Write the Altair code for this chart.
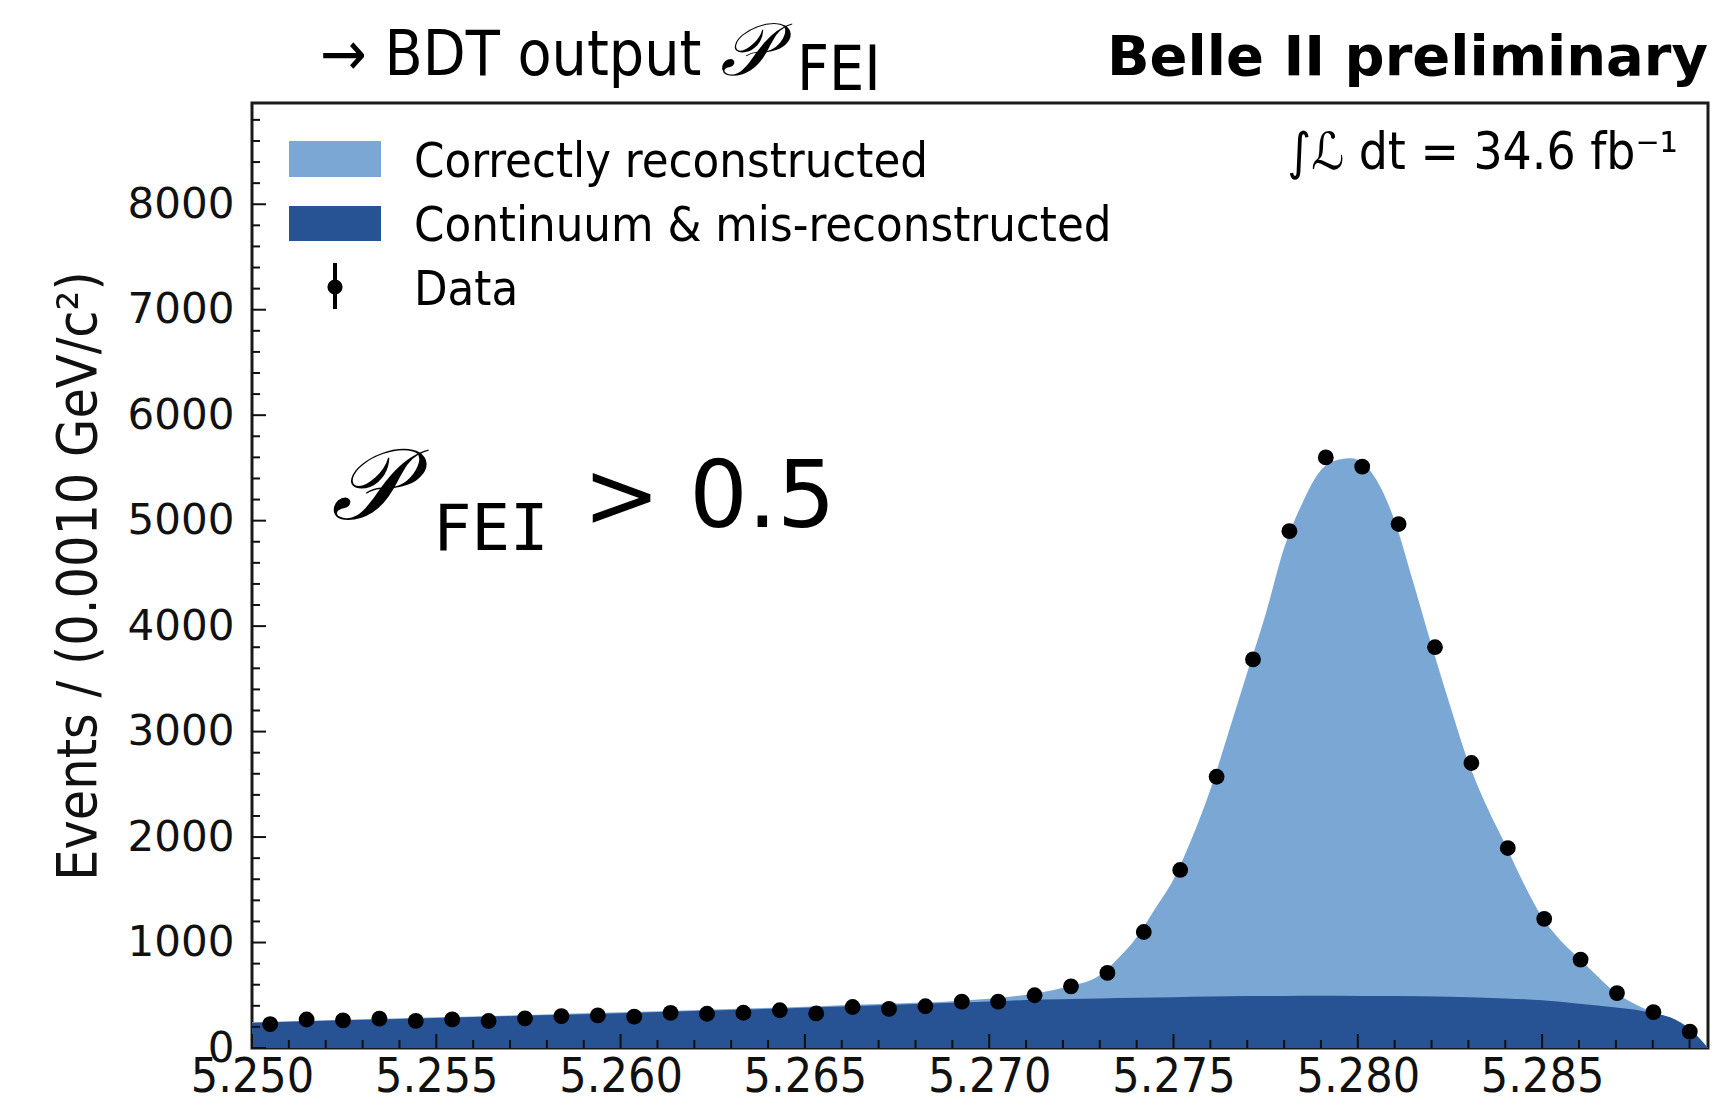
import altair as alt
import numpy as np
import pandas as pd

# Plot-area size in pixels
W, H = 1456, 945
LIGHT = "#7ba7d5"
DARK = "#275293"
COND = "DejaVu Sans Condensed, DejaVu Sans"

# Mbc histogram: 40 bins between 5.250 and 5.2895 GeV/c^2
bin_edges = np.linspace(5.25, 5.2895, 41)
bin_centers = (bin_edges[:-1] + bin_edges[1:]) / 2
data_counts = [226, 270, 262, 278, 257, 271, 256, 281, 303, 310,
               297, 333, 325, 334, 358, 328, 389, 371, 396, 440,
               440, 500, 585, 712, 1100, 1688, 2572, 3684, 4900, 5600,
               5512, 4968, 3800, 2702, 1896, 1225, 838, 521, 340, 155]

# Fitted continuum & mis-reconstructed component
bkg_x = [5.2500, 5.2525, 5.2550, 5.2575, 5.2600, 5.2625, 5.2650, 5.2670,
         5.2690, 5.2700, 5.2710, 5.2720, 5.2730, 5.2740, 5.2750, 5.2760,
         5.2770, 5.2780, 5.2790, 5.2800, 5.2810, 5.2825, 5.2840, 5.2850,
         5.2860, 5.2870, 5.2875, 5.2880, 5.2885, 5.2890, 5.2895]
bkg_y = [238, 262, 285, 307, 330, 355, 382, 405,
         428, 440, 455, 463, 470, 476, 482, 488,
         492, 494, 495, 494, 492, 486, 470, 452,
         420, 385, 365, 330, 287, 180, 0]

# Total fit (correctly reconstructed stacked on top)
tot_x = [5.2500, 5.2525, 5.2550, 5.2575, 5.2600, 5.2625, 5.2650, 5.2670,
         5.2690, 5.2700, 5.2710, 5.2720, 5.2730, 5.2735, 5.2740, 5.2745,
         5.2750, 5.2755, 5.2760, 5.2765, 5.2770, 5.2775, 5.2780, 5.2785,
         5.2790, 5.2795, 5.2798, 5.2800, 5.2805, 5.2810, 5.2815, 5.2820,
         5.2825, 5.2830, 5.2835, 5.2840, 5.2845, 5.2850, 5.2855, 5.2860,
         5.2865, 5.2870, 5.2875, 5.2880, 5.2885, 5.2890, 5.2895]
tot_y = [243, 267, 291, 313, 338, 364, 392, 417,
         443, 466, 505, 572, 690, 850, 1050, 1320,
         1600, 1990, 2450, 3000, 3560, 4115, 4740, 5170,
         5480, 5580, 5592, 5578, 5390, 5000, 4420, 3820,
         3250, 2710, 2290, 1930, 1560, 1240, 1020, 850,
         680, 521, 420, 340, 287, 185, 0]

x_major = [5.250, 5.255, 5.260, 5.265, 5.270, 5.275, 5.280, 5.285]
x_minor = [round(5.250 + 0.001 * k, 3) for k in range(40) if k % 5 != 0]
y_major = [0, 1000, 2000, 3000, 4000, 5000, 6000, 7000, 8000]
y_minor = [200 * k for k in range(45) if k % 5 != 0]

xs = alt.Scale(domain=[5.25, 5.2895], nice=False, zero=False)
ys = alt.Scale(domain=[0, 8960], nice=False)

x_axis = alt.Axis(values=x_major, format=".3f", labelFont=COND, labelFontSize=48,
                  labelColor="#111", labelPadding=5, ticks=False, domain=False,
                  grid=False, labelFlush=False, title=" ")
y_axis = alt.Axis(values=y_major, format="d", labelFont="DejaVu Sans", labelFontSize=42,
                  labelColor="#111", labelPadding=18, ticks=False, domain=False,
                  grid=False, labelFlush=False, title="Events / (0.0010 GeV/c²)",
                  titleFont=COND, titleFontSize=55, titleFontWeight="normal",
                  titleColor="#111", titlePadding=20)

# Shared position encodings so every layer uses one axis per channel
X = alt.X("m:Q", scale=xs, axis=x_axis)
Y = alt.Y("n:Q", scale=ys, axis=y_axis)

df_tot = pd.DataFrame({"m": tot_x, "n": tot_y})
df_bkg = pd.DataFrame({"m": bkg_x, "n": bkg_y})
df_data = pd.DataFrame({"m": bin_centers, "n": data_counts})

total_area = alt.Chart(df_tot).mark_area(color=LIGHT, interpolate="monotone").encode(x=X, y=Y)
bkg_area = alt.Chart(df_bkg).mark_area(color=DARK, interpolate="monotone").encode(x=X, y=Y)
points = alt.Chart(df_data).mark_circle(size=250, color="black", opacity=1).encode(x=X, y=Y)


def xticks(vals, length):
    return alt.Chart(pd.DataFrame({"m": vals})).mark_rule(color="#111", strokeWidth=2).encode(
        x=X, y=alt.value(H), y2=alt.value(H - length))


def yticks(vals, length):
    return alt.Chart(pd.DataFrame({"n": vals})).mark_rule(color="#111", strokeWidth=2).encode(
        y=Y, x=alt.value(0), x2=alt.value(length))


def label(text, x, y, size, font, weight="normal", align="left", style="normal"):
    return alt.Chart(pd.DataFrame({"s": [text]})).mark_text(
        align=align, baseline="alphabetic", font=font, fontSize=size,
        fontWeight=weight, fontStyle=style, color="black",
    ).encode(x=alt.value(x), y=alt.value(y), text="s:N")


def box(x1, x2, y1, y2, color):
    return alt.Chart(pd.DataFrame({"s": [0]})).mark_rect(color=color).encode(
        x=alt.value(x1), x2=alt.value(x2), y=alt.value(y1), y2=alt.value(y2))


# Legend
legend = [
    box(37, 129, 38, 74, LIGHT),
    box(37, 129, 103, 138, DARK),
    alt.Chart(pd.DataFrame({"s": [0]})).mark_rule(color="black", strokeWidth=4).encode(
        x=alt.value(83), y=alt.value(160), y2=alt.value(206)),
    alt.Chart(pd.DataFrame({"s": [0]})).mark_circle(size=230, color="black", opacity=1).encode(
        x=alt.value(83), y=alt.value(184)),
    label("Correctly reconstructed", 162, 74, 48.5, COND),
    label("Continuum & mis-reconstructed", 162, 138, 48.5, COND),
    label("Data", 162, 202, 48.5, COND),
]

# Headings and annotations
texts = [
    label("→ BDT output", 68, -28, 62, COND),
    label("𝒫", 468, -28, 74, "DejaVu Serif", style="italic"),
    label("FEI", 545, -13, 62, COND),
    label("Belle II preliminary", W, -28, 56, "DejaVu Sans", weight="bold", align="right"),
    label("∫ℒ dt = 34.6 fb⁻¹", 1426, 66, 51, COND, align="right"),
    label("𝒫", 79, 416, 100, "DejaVu Serif", style="italic"),
    label("FEI", 181, 447, 64, "DejaVu Sans Mono"),
    label("> 0.5", 331, 424, 92, "DejaVu Sans"),
]

chart = alt.layer(
    total_area, bkg_area, points,
    xticks(x_major, 14), xticks(x_minor, 8),
    yticks(y_major, 14), yticks(y_minor, 8),
    *legend, *texts,
).properties(
    width=W, height=H,
    autosize=alt.AutoSizeParams(type="none"),
    padding={"left": 252, "top": 103, "right": 23, "bottom": 54},
    background="white",
).configure_view(stroke="#1a1a1a", strokeWidth=3)

chart.save("out.html", embed_options={"renderer": "svg", "actions": False})
